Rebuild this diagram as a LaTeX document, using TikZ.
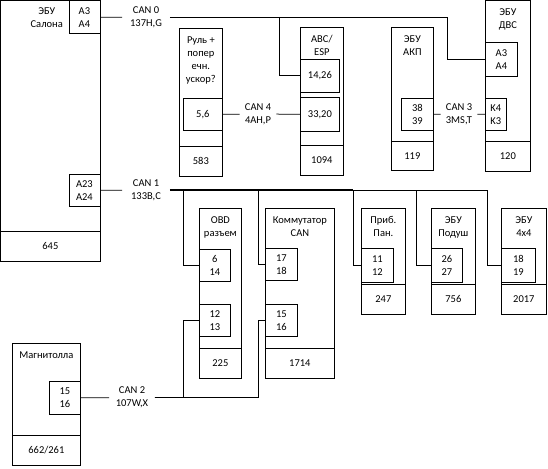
\documentclass[tikz,border=0pt]{standalone}
\usepackage{fontspec}
\setmainfont{Carlito}
\usetikzlibrary{positioning}

\begin{document}
\begin{tikzpicture}[x=1pt, y=-1pt, line width=0.75pt,
  every node/.style={font=\fontsize{10.5}{13}\selectfont, align=center}]
\tikzstyle{unit} = [rectangle, draw, anchor=north west, inner sep=0pt]
\tikzstyle{port} = [rectangle, draw, anchor=north west, inner sep=0pt, fill=white]
\tikzstyle{num} = [rectangle, draw, anchor=north west, inner sep=0pt]
\tikzstyle{title} = [anchor=north, inner sep=0pt]
\tikzstyle{can} = [inner xsep=5pt, inner ysep=0pt]

\useasboundingbox (0,0) rectangle (548,468);

% ЭБУ Салона
\node (sal) [unit, minimum width=99, minimum height=260] at (0.5,0.5) {};
\node (salN) [num, minimum width=99, minimum height=29.5] at (0.5,231) {645};
\node (salA) [port, minimum width=31, minimum height=33] at (68.5,0.5) {A3\\A4};
\node (salB) [port, minimum width=31, minimum height=32] at (68.5,174) {A23\\A24};
\node (salT) [left=2pt of salA] {ЭБУ\\Салона};

% Руль
\node (rul) [unit, minimum width=43, minimum height=148] at (179,28) {};
\node (rulT) [title] at ([yshift=-8pt]rul.north) {Руль +\\попер\\ечн.\\ускор?};
\node (rulP) [port, minimum width=39, minimum height=32] at (183,98) {5,6};
\node (rulN) [num, minimum width=43, minimum height=30] at (179,146) {583};

% ABC/ESP
\node (abs) [unit, minimum width=43, minimum height=148] at (300,27) {};
\node (absT) [title] at ([yshift=-8pt]abs.north) {ABC/\\ESP};
\node (absA) [port, minimum width=39, minimum height=33] at (300,59) {14,26};
\node (absB) [port, minimum width=39, minimum height=33] at (300,97.5) {33,20};
\node (absN) [num, minimum width=43, minimum height=30] at (300,145) {1094};

% ЭБУ АКП
\node (akp) [unit, minimum width=42, minimum height=143] at (391,27) {};
\node (akpT) [title] at ([yshift=-8pt]akp.north) {ЭБУ\\АКП};
\node (akpP) [port, minimum width=32, minimum height=32] at (401,98) {38\\39};
\node (akpN) [num, minimum width=42, minimum height=29] at (391,141) {119};

% ЭБУ ДВС
\node (dvs) [unit, minimum width=45, minimum height=170] at (485,0.5) {};
\node (dvsT) [title] at ([yshift=-8pt]dvs.north) {ЭБУ\\ДВС};
\node (dvsA) [port, minimum width=32, minimum height=34] at (485,42) {A3\\A4};
\node (dvsB) [port, minimum width=21, minimum height=32] at (485,98) {K4\\K3};
\node (dvsN) [num, minimum width=45, minimum height=29.5] at (485,141) {120};

% OBD
\node (obd) [unit, minimum width=42, minimum height=170] at (199,208) {};
\node (obdT) [title] at ([yshift=-8pt]obd.north) {OBD\\разъем};
\node (obdA) [port, minimum width=31, minimum height=32] at (199,249) {6\\14};
\node (obdB) [port, minimum width=31, minimum height=32] at (199,304) {12\\13};
\node (obdN) [num, minimum width=42, minimum height=30] at (199,348) {225};

% Коммутатор CAN
\node (kom) [unit, minimum width=69, minimum height=170] at (265,208) {};
\node (komT) [title] at ([yshift=-8pt]kom.north) {Коммутатор\\CAN};
\node (komA) [port, minimum width=32, minimum height=32] at (265,248) {17\\18};
\node (komB) [port, minimum width=32, minimum height=32] at (265,304) {15\\16};
\node (komN) [num, minimum width=69, minimum height=30] at (265,348) {1714};

% Приб. Пан.
\node (prib) [unit, minimum width=44, minimum height=106] at (361,208) {};
\node (pribT) [title] at ([yshift=-8pt]prib.north) {Приб.\\Пан.};
\node (pribP) [port, minimum width=32, minimum height=34] at (361,248) {11\\12};
\node (pribN) [num, minimum width=44, minimum height=30] at (361,284) {247};

% ЭБУ Подуш
\node (pod) [unit, minimum width=44, minimum height=106] at (431,208) {};
\node (podT) [title] at ([yshift=-8pt]pod.north) {ЭБУ\\Подуш};
\node (podP) [port, minimum width=31, minimum height=34] at (431,248) {26\\27};
\node (podN) [num, minimum width=44, minimum height=30] at (431,284) {756};

% ЭБУ 4x4
\node (awd) [unit, minimum width=45, minimum height=106] at (501,208) {};
\node (awdT) [title] at ([yshift=-8pt]awd.north) {ЭБУ\\4x4};
\node (awdP) [port, minimum width=34, minimum height=34] at (501,248) {18\\19};
\node (awdN) [num, minimum width=45, minimum height=30] at (501,284) {2017};

% Магнитолла
\node (mag) [unit, minimum width=68, minimum height=122] at (12,343) {};
\node (magT) [title] at ([yshift=-8pt]mag.north) {Магнитолла};
\node (magP) [port, minimum width=31, minimum height=33] at (49,381) {15\\16};
\node (magN) [num, minimum width=68, minimum height=30] at (12,435) {662/261};

% CAN 0
\node (can0) [can, minimum width=47] at (146,17) {CAN 0\\137H,G};
\coordinate (j0) at (279,17);
\coordinate (j1) at (447,17);
\draw (salA) -- (can0);
\draw (can0) -- (j1) |- (dvsA);
\draw (j0) |- (absA);

% CAN 4
\node (can4) [can] at (258,114) {CAN 4\\4AH,P};
\draw (rulP) -- (can4) -- (absB);

% CAN 3
\node (can3) [can] at (459,114) {CAN 3\\3MS,T};
\draw (akpP) -- (can3) -- (dvsB);

% CAN 1
\node (can1) [can, minimum width=47] at (146,190) {CAN 1\\133B,C};
\coordinate (k1) at (183,190);
\coordinate (k2) at (258,190);
\coordinate (k3) at (353,190);
\coordinate (k4) at (416,190);
\coordinate (k5) at (487,190);
\draw (salB) -- (can1);
\draw [line width=1.6pt] (can1) -- (k3);
\draw (k3) -- (k5);
\draw (k1) |- (obdA);
\draw (k2) |- (komA);
\draw (k3) |- (pribP);
\draw (k4) |- (podP);
\draw (k5) |- (awdP);

% CAN 2
\node (can2) [can, minimum width=45] at (132,397.5) {CAN 2\\107W,X};
\coordinate (m1) at (183,397.5);
\coordinate (m2) at (258,397.5);
\draw (magP) -- (can2) -- (m2);
\draw (m1) |- (obdB);
\draw (m2) |- (komB);
\end{tikzpicture}
\end{document}
